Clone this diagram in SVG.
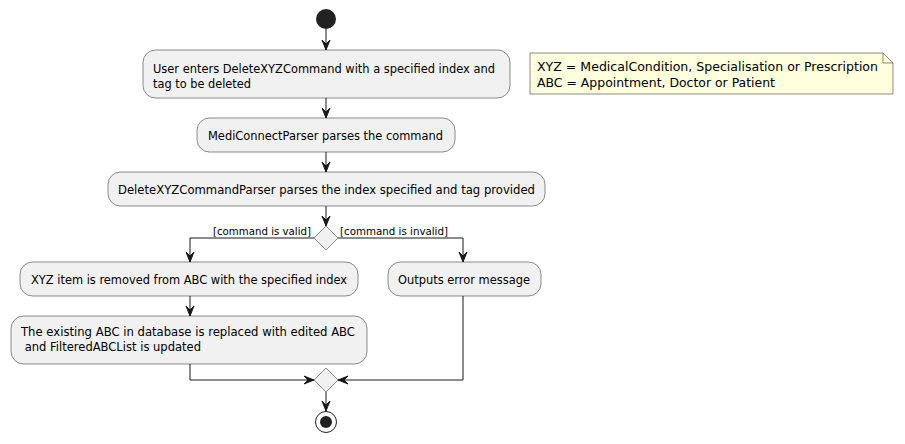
<svg xmlns="http://www.w3.org/2000/svg" width="905" height="444" viewBox="0 0 905 444">
<style>
.box{fill:#F1F1F1;stroke:#181818;stroke-width:0.5}
.t{font-family:"DejaVu Sans","Liberation Sans",sans-serif;font-size:12px;fill:#000}
.lbl{font-family:"DejaVu Sans","Liberation Sans",sans-serif;font-size:11px;fill:#000}
.ln{fill:none;stroke:#181818;stroke-width:1}
.ah{fill:#181818;stroke:#181818;stroke-width:1}
</style>
<rect width="905" height="444" fill="#FFFFFF"/>
<g id="start"><circle cx="326" cy="19" r="10" fill="#222222"/></g>
<g id="n1"><rect class="box" x="143" y="50" width="367" height="48" rx="12.5"/>
<text class="t" x="153" y="73" textLength="342" lengthAdjust="spacingAndGlyphs">User enters DeleteXYZCommand with a specified index and</text>
<text class="t" x="153" y="87.5" textLength="98" lengthAdjust="spacingAndGlyphs">tag to be deleted</text></g>
<g id="n2"><rect class="box" x="197" y="118" width="258" height="34" rx="12.5"/>
<text class="t" x="208" y="139.5" textLength="235" lengthAdjust="spacingAndGlyphs">MediConnectParser parses the command</text></g>
<g id="n3"><rect class="box" x="108" y="172" width="437" height="34" rx="12.5"/>
<text class="t" x="118" y="193.5" textLength="417" lengthAdjust="spacingAndGlyphs">DeleteXYZCommandParser parses the index specified and tag provided</text></g>
<g id="d1"><polygon class="box" points="326,226 338,238 326,250 314,238"/></g>
<g id="n4"><rect class="box" x="20" y="262" width="338" height="34" rx="12.5"/>
<text class="t" x="31" y="283.5" textLength="316" lengthAdjust="spacingAndGlyphs">XYZ item is removed from ABC with the specified index</text></g>
<g id="n5"><rect class="box" x="388" y="262" width="153" height="34" rx="12.5"/>
<text class="t" x="398" y="283.5" textLength="132" lengthAdjust="spacingAndGlyphs">Outputs error message</text></g>
<g id="n6"><rect class="box" x="11" y="316" width="356" height="48" rx="12.5"/>
<text class="t" x="21" y="336" textLength="334" lengthAdjust="spacingAndGlyphs">The existing ABC in database is replaced with edited ABC</text>
<text class="t" x="21" y="351" xml:space="preserve" textLength="180" lengthAdjust="spacingAndGlyphs"> and FilteredABCList is updated</text></g>
<g id="d2"><polygon class="box" points="326,368 338,380 326,392 314,380"/></g>
<g id="end"><circle cx="326" cy="422" r="10.5" fill="none" stroke="#222222" stroke-width="1"/><circle cx="326" cy="422" r="6" fill="#222222"/></g>
<g id="note"><path d="M530,53 L883,53 L893,63 L893,94 L530,94 Z" fill="#FEFFDD" stroke="#181818" stroke-width="0.5"/>
<path d="M883,53 L883,63 L893,63" fill="none" stroke="#181818" stroke-width="0.5"/>
<text class="t" x="537" y="71" textLength="341" lengthAdjust="spacingAndGlyphs">XYZ = MedicalCondition, Specialisation or Prescription</text>
<text class="t" x="537" y="87" textLength="238" lengthAdjust="spacingAndGlyphs">ABC = Appointment, Doctor or Patient</text></g>
<g id="connectors">
<line class="ln" x1="326" y1="29" x2="326" y2="50"/>
<polygon class="ah" points="322,40 326,50 330,40 326,44"/>
<line class="ln" x1="326" y1="98" x2="326" y2="118"/>
<polygon class="ah" points="322,108 326,118 330,108 326,112"/>
<line class="ln" x1="326" y1="152" x2="326" y2="172"/>
<polygon class="ah" points="322,162 326,172 330,162 326,166"/>
<line class="ln" x1="326" y1="206" x2="326" y2="226"/>
<polygon class="ah" points="322,216 326,226 330,216 326,220"/>
<polyline class="ln" points="314,238 190,238 190,262"/>
<polygon class="ah" points="186,252 190,262 194,252 190,256"/>
<text class="lbl" x="213" y="234.5" textLength="98" lengthAdjust="spacingAndGlyphs">[command is valid]</text>
<polyline class="ln" points="338,238 463,238 463,262"/>
<polygon class="ah" points="459,252 463,262 467,252 463,256"/>
<text class="lbl" x="340" y="234.5" textLength="108" lengthAdjust="spacingAndGlyphs">[command is invalid]</text>
<line class="ln" x1="190" y1="296" x2="190" y2="316"/>
<polygon class="ah" points="186,306 190,316 194,306 190,310"/>
<polyline class="ln" points="190,364 190,380 314,380"/>
<polygon class="ah" points="304,376 314,380 304,384 308,380"/>
<polyline class="ln" points="463,296 463,380 338,380"/>
<polygon class="ah" points="348,376 338,380 348,384 344,380"/>
<line class="ln" x1="326" y1="392" x2="326" y2="411"/>
<polygon class="ah" points="322,401 326,411 330,401 326,405"/>
</g>
</svg>
